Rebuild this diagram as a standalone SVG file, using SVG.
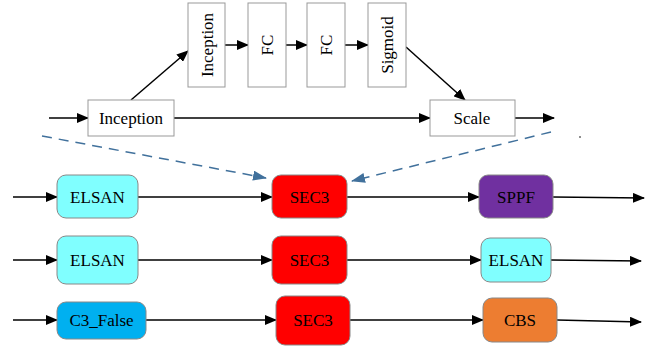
<svg xmlns="http://www.w3.org/2000/svg" width="663" height="347" viewBox="0 0 663 347" font-family="'Liberation Serif', 'Times New Roman', Times, serif">
<style>
text{font-family:'Liberation Serif','Times New Roman',Times,serif;fill:#000;text-anchor:middle;dominant-baseline:central;font-size:17px}
.sq{fill:#fff;stroke:#999;stroke-width:1}
.rb{stroke:#888;stroke-width:1}
.c{stroke:#000;stroke-width:1.5;fill:none;marker-end:url(#ah)}
.d{stroke:#41719C;stroke-width:1.5;fill:none;stroke-dasharray:10 7;marker-end:url(#bh)}
</style>
<defs>
<marker id="ah" markerUnits="userSpaceOnUse" markerWidth="12" markerHeight="10" refX="11" refY="5" orient="auto"><path d="M0,0 L12,5 L0,10 Z" fill="#000"/></marker>
<marker id="bh" markerUnits="userSpaceOnUse" markerWidth="14" markerHeight="10" refX="13" refY="5" orient="auto"><path d="M0,0 L14,5 L0,10 Z" fill="#41719C"/></marker>
</defs>
<g id="connectors">
<line class="c" x1="49" y1="118" x2="88" y2="118"/>
<line class="c" x1="131" y1="100" x2="188" y2="51"/>
<line class="c" x1="225" y1="45" x2="248" y2="45"/>
<line class="c" x1="286" y1="45" x2="307" y2="45"/>
<line class="c" x1="345" y1="45" x2="368" y2="45"/>
<line class="c" x1="406" y1="47" x2="465" y2="100"/>
<line class="c" x1="174" y1="118" x2="430" y2="118"/>
<line class="c" x1="515" y1="118" x2="554" y2="118"/>
<line class="d" x1="42" y1="136" x2="266" y2="178"/>
<line class="d" x1="551" y1="132" x2="352" y2="181"/>
<line class="c" x1="13" y1="197" x2="57" y2="197"/>
<line class="c" x1="138" y1="197" x2="272" y2="197"/>
<line class="c" x1="347" y1="197" x2="479" y2="197"/>
<line class="c" x1="553" y1="197" x2="644" y2="198"/>
<line class="c" x1="13" y1="260" x2="57" y2="260"/>
<line class="c" x1="138" y1="260" x2="272" y2="260"/>
<line class="c" x1="347" y1="260" x2="481" y2="260"/>
<line class="c" x1="551" y1="260" x2="641" y2="261"/>
<line class="c" x1="13" y1="320" x2="57" y2="320"/>
<line class="c" x1="146" y1="320" x2="276" y2="320"/>
<line class="c" x1="350" y1="320" x2="483" y2="320"/>
<line class="c" x1="557" y1="320" x2="641" y2="322"/>
</g>
<circle cx="580" cy="137" r="0.8" fill="#000"/>
<g id="inception1"><rect class="sq" x="88" y="100" width="86" height="36"/><text x="131" y="118">Inception</text></g>
<g id="inception2"><rect class="sq" x="188" y="3" width="37" height="84"/><text transform="translate(207 45) rotate(-90)">Inception</text></g>
<g id="fc1"><rect class="sq" x="248" y="3" width="38" height="84"/><text transform="translate(267 45) rotate(-90)">FC</text></g>
<g id="fc2"><rect class="sq" x="307" y="3" width="38" height="84"/><text transform="translate(326 45) rotate(-90)">FC</text></g>
<g id="sigmoid"><rect class="sq" x="368" y="3" width="38" height="84"/><text transform="translate(387 45) rotate(-90)">Sigmoid</text></g>
<g id="scale"><rect class="sq" x="430" y="100" width="85" height="36"/><text x="472" y="118">Scale</text></g>
<g id="elsan1"><rect class="rb" x="57" y="175" width="81" height="43" rx="9" fill="#80FFFF"/><text x="97.5" y="197">ELSAN</text></g>
<g id="sec3a"><rect class="rb" x="272" y="175" width="75" height="43" rx="9" fill="#FF0000"/><text x="309.5" y="197">SEC3</text></g>
<g id="sppf"><rect class="rb" x="479" y="175" width="74" height="43" rx="9" fill="#7030A0"/><text x="516" y="197">SPPF</text></g>
<g id="elsan2"><rect class="rb" x="57" y="236" width="81" height="48" rx="9" fill="#80FFFF"/><text x="97.5" y="260">ELSAN</text></g>
<g id="sec3b"><rect class="rb" x="272" y="236" width="75" height="48" rx="9" fill="#FF0000"/><text x="309.5" y="260">SEC3</text></g>
<g id="elsan3"><rect class="rb" x="481" y="238" width="70" height="44" rx="9" fill="#80FFFF"/><text x="516" y="260">ELSAN</text></g>
<g id="c3false"><rect class="rb" x="57" y="302" width="89" height="37" rx="9" fill="#00B0F0"/><text x="101.5" y="320">C3_False</text></g>
<g id="sec3c"><rect class="rb" x="276" y="296" width="74" height="49" rx="9" fill="#FF0000"/><text x="313" y="320">SEC3</text></g>
<g id="cbs"><rect class="rb" x="483" y="298" width="74" height="44" rx="9" fill="#ED7D31"/><text x="520" y="320">CBS</text></g>
</svg>
